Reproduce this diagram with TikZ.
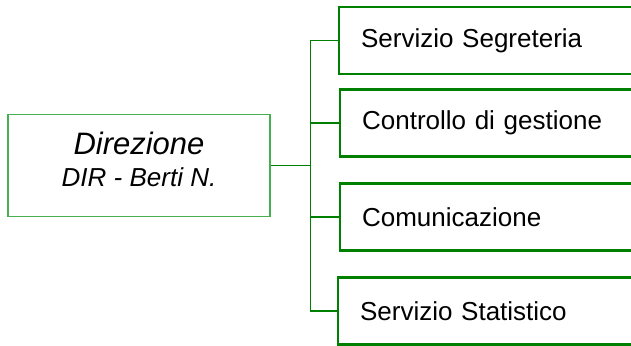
\documentclass[tikz,border=0pt]{standalone}
\usepackage{fontspec}
\setmainfont{Liberation Sans}
\definecolor{boxgreen}{RGB}{0,128,0}
\definecolor{litegreen}{RGB}{70,175,80}

\begin{document}
\begin{tikzpicture}[x=1pt,y=-1pt,
    unit/.style={draw=boxgreen,line width=2.2pt,anchor=west,minimum width=302pt,minimum height=67pt,
      inner xsep=22pt,text width=258pt,align=left,font=\fontsize{26}{30}\selectfont},
    conn/.style={draw=boxgreen,line width=1.5pt}]
        \useasboundingbox (0,0) rectangle (631,345);
        \clip (0,0) rectangle (631,345);
        \node[draw=litegreen,line width=1.1pt,minimum width=262pt,inner ysep=18pt,text depth=12pt,align=center,
          font=\fontsize{26}{32}\selectfont\itshape]
          (dir) at (139,165.5) {{\fontsize{31}{32}\selectfont Direzione}\\DIR - Berti N.};
        \node[unit] (segr) at (338,40.5) {Servizio Segreteria};
        \node[unit] (ctrl) at (339,123) {Controllo di gestione};
        \node[unit] (comu) at (339,217) {Comunicazione};
        \node[unit] (stat) at (337,311) {Servizio Statistico};
        \coordinate (bus) at ([xshift=40pt]dir.east);
        \draw[conn] (dir.east) -- (bus);
        \draw[conn] (segr.west) -| (bus) |- (stat.west);
        \draw[conn] (ctrl.west) -- (bus |- ctrl.west);
        \draw[conn] (comu.west) -- (bus |- comu.west);
      \end{tikzpicture}
\end{document}
